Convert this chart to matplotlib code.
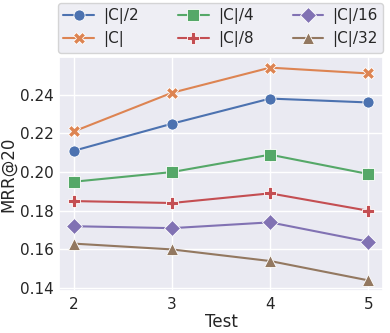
import matplotlib
matplotlib.use("Agg")
import matplotlib.pyplot as plt
import seaborn as sns

sns.set_theme(style="darkgrid", palette="deep")

x_vals = [2, 3, 4, 5]
labels = ["|C|/2", "|C|", "|C|/4", "|C|/8", "|C|/16", "|C|/32"]
c_half = [0.211, 0.225, 0.238, 0.236]
c_full = [0.221, 0.241, 0.254, 0.251]
c_quarter = [0.195, 0.200, 0.209, 0.199]
c_eighth = [0.185, 0.184, 0.189, 0.180]
c_sixteenth = [0.172, 0.171, 0.174, 0.164]
c_32 = [0.163, 0.160, 0.154, 0.144]
series = [c_half, c_full, c_quarter, c_eighth, c_sixteenth, c_32]
markers = ["o", "X", "s", "P", "D", "^"]
colors = sns.color_palette("deep", 6)

fig = plt.figure(figsize=(3.9, 3.33), dpi=100)
ax = fig.add_axes([59/390, 1-291/333, (383-59)/390, (291-57)/333])
for lab, ys, m, c in zip(labels, series, markers, colors):
    ax.plot(x_vals, ys, marker=m, color=c, label=lab, linewidth=1.5,
            markersize=8, markeredgecolor="white", markeredgewidth=0.6)

ax.set_xticks(x_vals)
ax.tick_params(labelsize=11, length=0, pad=4)
ax.set_xlabel("Test", fontsize=12, labelpad=1)
ax.set_ylabel("MRR@20", fontsize=12, labelpad=1.5)
fig.legend(loc="upper left", bbox_to_anchor=(58/390, 1-3/333, (383-58)/390, 0),
           mode="expand", ncol=3, fontsize=11, frameon=True,
           handlelength=2.0, borderaxespad=0, handletextpad=0.6,
           columnspacing=1.0, labelspacing=0.45, borderpad=0.35)
fig.savefig("out.png", dpi=100)
